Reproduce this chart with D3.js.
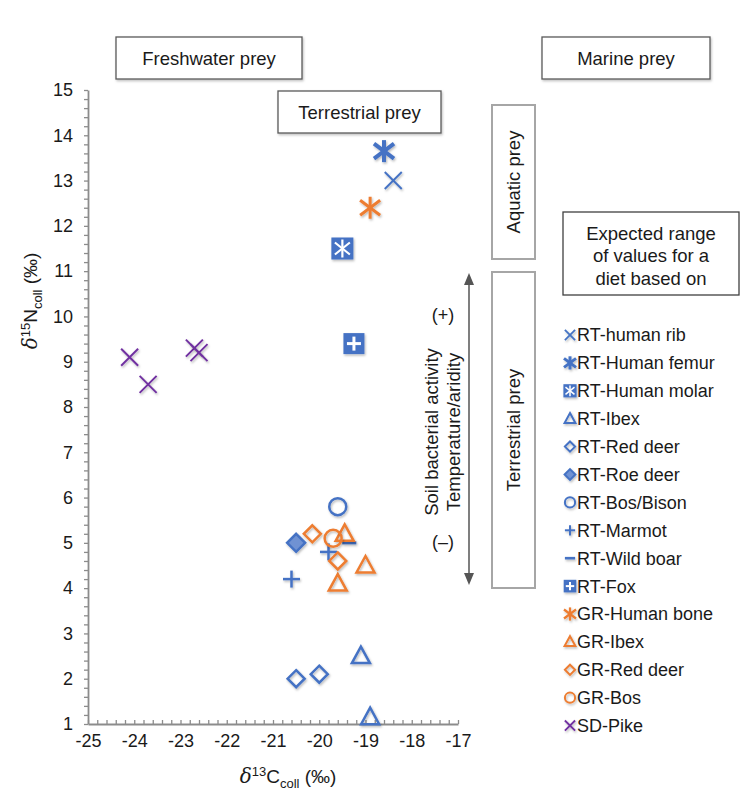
<!DOCTYPE html>
<html><head><meta charset="utf-8">
<script src="https://cdn.jsdelivr.net/npm/d3@7"></script>
<style>
body{margin:0;background:#fff}
text{font-family:"Liberation Sans",Arial,Helvetica,sans-serif;fill:#1a1a1a}
</style>
</head><body>
<svg id="c" width="749" height="795"></svg>
<script>
// ---------------- data ----------------
const seriesNames = ["RT-human rib","RT-Human femur","RT-Human molar","RT-Ibex","RT-Red deer","RT-Roe deer","RT-Bos/Bison","RT-Marmot","RT-Wild boar","RT-Fox","GR-Human bone","GR-Ibex","GR-Red deer","GR-Bos","SD-Pike"];
const ribC = [-18.4],            ribN = [13.0];
const femurC = [-18.6],          femurN = [13.65];
const molarC = [-19.5],          molarN = [11.5];
const rtIbexC = [-19.1,-18.9],   rtIbexN = [2.5,1.15];
const rtRedDeerC = [-20.5,-20.0],rtRedDeerN = [2.0,2.1];
const rtRoeDeerC = [-20.5],      rtRoeDeerN = [5.0];
const rtBosC = [-19.6],          rtBosN = [5.8];
const rtMarmotC = [-19.8,-20.6], rtMarmotN = [4.8,4.2];
const rtBoarC = [-19.35],        rtBoarN = [5.0];
const rtFoxC = [-19.25],         rtFoxN = [9.4];
const grHumanC = [-18.9],        grHumanN = [12.4];
const grIbexC = [-19.45,-19.0,-19.6], grIbexN = [5.2,4.5,4.1];
const grRedDeerC = [-20.15,-19.6],    grRedDeerN = [5.2,4.6];
const grBosC = [-19.7],          grBosN = [5.1];
const pikeC = [-24.1,-23.7,-22.7,-22.6], pikeN = [9.1,8.5,9.3,9.2];
const xTicks = [-25,-24,-23,-22,-21,-20,-19,-18,-17];
const yTicks = [1,2,3,4,5,6,7,8,9,10,11,12,13,14,15];
const seriesC = [ribC,femurC,molarC,rtIbexC,rtRedDeerC,rtRoeDeerC,rtBosC,rtMarmotC,rtBoarC,rtFoxC,grHumanC,grIbexC,grRedDeerC,grBosC,pikeC];
const seriesN = [ribN,femurN,molarN,rtIbexN,rtRedDeerN,rtRoeDeerN,rtBosN,rtMarmotN,rtBoarN,rtFoxN,grHumanN,grIbexN,grRedDeerN,grBosN,pikeN];

// ---------------- styles ----------------
const BLUE="#4472C4", ORANGE="#ED7D31", PURPLE="#7030A0";
const styles = [
  {t:"x",c:BLUE,w:2},{t:"star",c:BLUE,w:4},{t:"sqStar",c:BLUE},{t:"tri",c:BLUE},
  {t:"dia",c:BLUE},{t:"diaF",c:BLUE},{t:"circ",c:BLUE},{t:"plus",c:BLUE},
  {t:"dash",c:BLUE},{t:"sqPlus",c:BLUE},{t:"star",c:ORANGE,w:3},{t:"tri",c:ORANGE},
  {t:"dia",c:ORANGE},{t:"circ",c:ORANGE},{t:"x",c:PURPLE,w:2}
];

const svg = d3.select("#c");
const defs = svg.append("defs");
const f = defs.append("filter").attr("id","sh").attr("filterUnits","userSpaceOnUse")
  .attr("x",-30).attr("y",-30).attr("width",60).attr("height",60);
f.append("feDropShadow").attr("dx",1).attr("dy",1.5).attr("stdDeviation",1).attr("flood-color","#000").attr("flood-opacity",0.28);
const fb = defs.append("filter").attr("id","shb").attr("x","-10%").attr("y","-20%").attr("width","130%").attr("height","150%");
fb.append("feDropShadow").attr("dx",1).attr("dy",1.5).attr("stdDeviation",1).attr("flood-color","#000").attr("flood-opacity",0.25);

const x = d3.scaleLinear().domain([-25,-17]).range([88,458]);
const y = d3.scaleLinear().domain([1,15]).range([724,90]);

// axes
const axCol = "#8c8c8c";
const minorY = d3.range(10,151,2).map(v=>v/10);
const minorX = d3.range(-250,-169,2).map(v=>v/10);
const gy = svg.append("g").attr("transform","translate(88,0)")
  .call(d3.axisLeft(y).tickValues(minorY).tickSize(4).tickSizeOuter(0).tickFormat(""));
const gx = svg.append("g").attr("transform","translate(0,724)")
  .call(d3.axisBottom(x).tickValues(minorX).tickSize(-4).tickSizeOuter(0).tickFormat(""));
[gy,gx].forEach(g=>{g.selectAll("path,line").attr("stroke",axCol).attr("stroke-width",1.3);});
gy.select("path").attr("stroke-width",1.8);
gx.select("path").attr("stroke-width",1.8);

const ly = svg.append("g").attr("transform","translate(88,0)")
  .call(d3.axisLeft(y).tickValues(yTicks).tickSize(0).tickPadding(15).tickFormat(d3.format("d")));
ly.select("path").remove();
ly.selectAll("text").attr("font-size",18).attr("fill","#1a1a1a").style("font-family","Liberation Sans, Arial, sans-serif");
const lx = svg.append("g").attr("transform","translate(0,724)")
  .call(d3.axisBottom(x).tickValues(xTicks).tickSize(0).tickPadding(10).tickFormat(d=>String(d).replace("\u2212","-")));
lx.select("path").remove();
lx.selectAll("text").attr("font-size",18).attr("fill","#1a1a1a").style("font-family","Liberation Sans, Arial, sans-serif");

// axis titles
function title(g, main, sup, sub){
  const t = g.append("text").attr("font-size",19).attr("text-anchor","middle");
  t.append("tspan").text("\u03B4").attr("font-style","italic").attr("font-family","DejaVu Serif, serif").attr("font-size",20);
  t.append("tspan").text(sup).attr("font-size",13).attr("dy",-7);
  t.append("tspan").text(main).attr("dy",7);
  t.append("tspan").text(sub).attr("font-size",13).attr("dy",4.5);
  t.append("tspan").text(" (\u2030)").attr("dy",-4.5);
  return t;
}
title(svg.append("g").attr("transform","translate(288,783)"),"C","13","coll");
title(svg.append("g").attr("transform","translate(37,301) rotate(-90)"),"N","15","coll");

// marker drawing
function marker(g, st, k){
  const c = st.c;
  const sw = k===1 ? 2.5 : 2;
  const m = g.append("g").attr("filter","url(#sh)");
  const line = (x1,y1,x2,y2,col,w)=>m.append("line").attr("x1",x1*k).attr("y1",y1*k).attr("x2",x2*k).attr("y2",y2*k)
      .attr("stroke",col).attr("stroke-width",w).attr("stroke-linecap","butt");
  const star = (col,w,hw,hh,hv)=>{ line(-hw,-hh,hw,hh,col,w); line(-hw,hh,hw,-hh,col,w); line(0,-hv,0,hv,col,w); };
  switch(st.t){
    case "x": line(-8.5,-8.5,8.5,8.5,c,k===1?st.w:1.8); line(-8.5,8.5,8.5,-8.5,c,k===1?st.w:1.8); break;
    case "star": star(c,k===1?st.w:st.w*0.75,10,7.5,11); break;
    case "sqStar":
      m.append("rect").attr("x",-11*k).attr("y",-11*k).attr("width",22*k).attr("height",22*k).attr("fill",c);
      star("#fff",k===1?2.2:1.5,7.5,6,9); break;
    case "sqPlus":
      m.append("rect").attr("x",-10.5*k).attr("y",-10.5*k).attr("width",21*k).attr("height",21*k).attr("fill",c);
      line(-7,0,7,0,"#fff",k===1?3:2); line(0,-7,0,7,"#fff",k===1?3:2); break;
    case "tri":
      m.append("path").attr("d",`M0,${-9.5*k}L${9*k},${7*k}L${-9*k},${7*k}Z`).attr("fill","none").attr("stroke",c).attr("stroke-width",sw).attr("stroke-linejoin","miter"); break;
    case "dia":
      m.append("path").attr("d",`M0,${-8.5*k}L${8.5*k},0L0,${8.5*k}L${-8.5*k},0Z`).attr("fill","none").attr("stroke",c).attr("stroke-width",sw); break;
    case "diaF":
      m.append("path").attr("d",`M0,${-9*k}L${9*k},0L0,${9*k}L${-9*k},0Z`).attr("fill","#6f92d3").attr("stroke",c).attr("stroke-width",sw); break;
    case "circ":
      m.append("circle").attr("r",8.5*k).attr("fill","none").attr("stroke",c).attr("stroke-width",sw); break;
    case "plus":
      line(-8.5,0,8.5,0,c,sw); line(0,-8.5,0,8.5,c,sw); break;
    case "dash":
      if (k===1) line(-7,0,7,0,c,3); else line(-8.5,0,8.5,0,c,2.6); break;
  }
  return m;
}

// points
const plot = svg.append("g");
seriesNames.forEach((name,i)=>{
  seriesC[i].forEach((cv,j)=>{
    const g = plot.append("g").attr("transform",`translate(${x(cv)},${y(seriesN[i][j])})`);
    marker(g, styles[i], 1);
  });
});

// annotation boxes
function box(x0,y0,w,h,stroke,sw,shadow){
  const r = svg.append("rect").attr("x",x0).attr("y",y0).attr("width",w).attr("height",h)
    .attr("fill","#fff").attr("stroke",stroke).attr("stroke-width",sw);
  if(shadow) r.attr("filter","url(#shb)");
  return r;
}
function ctext(cx,cy,s,size,rot){
  const t = svg.append("text").attr("text-anchor","middle").attr("dominant-baseline","central")
    .attr("font-size",size).text(s);
  t.attr("transform",`translate(${cx},${cy})${rot?" rotate(-90)":""}`);
  return t;
}
box(116,37,186,42,"#595959",1.3,true); ctext(209,58,"Freshwater prey",18.5);
box(542,37,168,42,"#595959",1.3,true); ctext(626,58,"Marine prey",18.5);
box(278,91,163,42,"#595959",1.3,true); ctext(359.5,112,"Terrestrial prey",18.5);
box(492,105,43,154,"#a6a6a6",2,false); ctext(513.5,182,"Aquatic prey",18.5,true);
box(492,272,43,316,"#a6a6a6",2,false); ctext(513.5,430,"Terrestrial prey",18.5,true);
box(563,212,176,83,"#404040",1.3,false);
ctext(651,233,"Expected range",18.5); ctext(651,255.5,"of values for a",18.5); ctext(651,278,"diet based on",18.5);

// arrow
const ac="#555";
svg.append("line").attr("x1",469).attr("y1",283).attr("x2",469).attr("y2",575).attr("stroke",ac).attr("stroke-width",1.5);
svg.append("path").attr("d","M469,273L474,285L464,285Z").attr("fill",ac);
svg.append("path").attr("d","M469,585L474,573L464,573Z").attr("fill",ac);
ctext(443,315,"(+)",18);
ctext(443,542,"(\u2013)",18);
ctext(431,432,"Soil bacterial activity",18.5,true);
ctext(453,432,"Temperature/aridity",18.5,true);

// legend
const leg = svg.append("g");
seriesNames.forEach((name,i)=>{
  const yy = 335 + i*27.9;
  const g = leg.append("g").attr("transform",`translate(570,${yy})`);
  marker(g, styles[i], 0.6);
  leg.append("text").attr("x",577).attr("y",yy).attr("dy","0.36em").attr("font-size",18).text(name);
});
</script>
</body></html>
